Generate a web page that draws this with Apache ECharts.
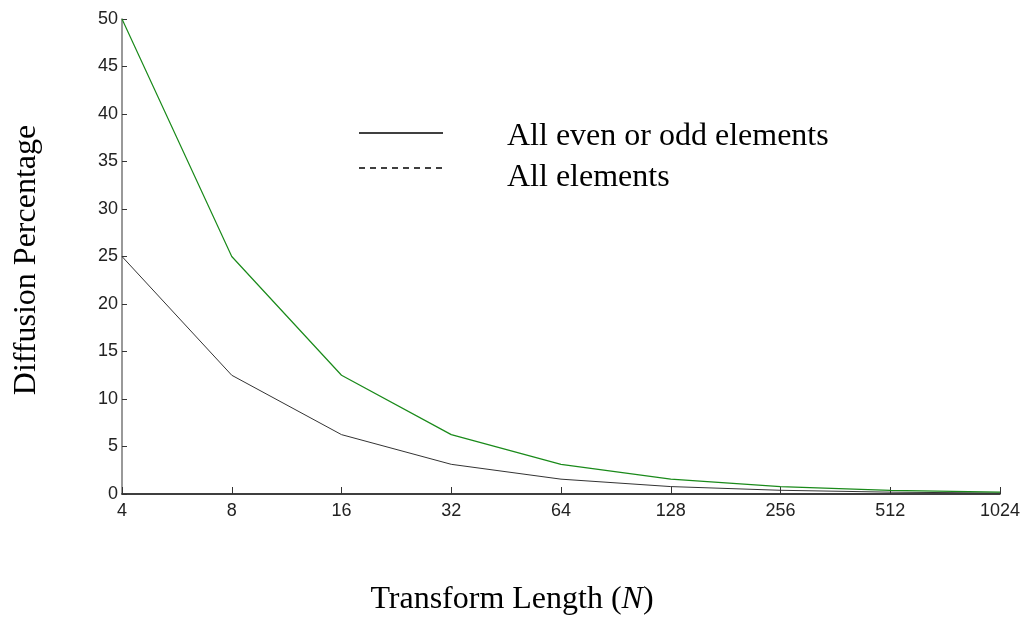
<!DOCTYPE html>
<html>
<head>
<meta charset="utf-8">
<script src="https://cdn.jsdelivr.net/npm/echarts@6/dist/echarts.min.js"></script>
<style>
  html, body { margin: 0; padding: 0; background: #fff; }
  #chart { width: 1030px; height: 617px; }
</style>
</head>
<body>
<div id="chart"></div>
<script>
// Transform lengths on the x axis
const lengths = ['4', '8', '16', '32', '64', '128', '256', '512', '1024'];
// Diffusion percentage when only even or only odd elements are changed
const evenOddDiffusion = [25, 12.5, 6.25, 3.125, 1.5625, 0.78, 0.39, 0.195, 0.098];
// Diffusion percentage when all elements are changed
const allDiffusion = [50, 25, 12.5, 6.25, 3.125, 1.5625, 0.78, 0.39, 0.195];
// Legend entries
const legendLabels = ['All even or odd elements', 'All elements'];

const chart = echarts.init(document.getElementById('chart'));
const serif = '"Liberation Serif", "Times New Roman", serif';
const sans = '"Liberation Sans", Arial, sans-serif';

chart.setOption({
  animation: false,
  backgroundColor: '#fff',
  grid: { left: 122, right: 30, top: 19, bottom: 123, containLabel: false },
  xAxis: {
    type: 'category',
    data: lengths,
    boundaryGap: false,
    axisLine: { lineStyle: { color: '#000', width: 1.5 } },
    axisTick: { inside: true, length: 7, alignWithLabel: true, lineStyle: { color: '#333' } },
    axisLabel: { color: '#222', fontFamily: sans, fontSize: 18, margin: 8 },
    splitLine: { show: false }
  },
  yAxis: {
    type: 'value',
    min: 0, max: 50, interval: 5,
    axisLine: { show: true, lineStyle: { color: '#777', width: 1.5 } },
    axisTick: { show: true, inside: true, length: 5, lineStyle: { color: '#333' } },
    axisLabel: { color: '#222', fontFamily: sans, fontSize: 18, margin: 4 },
    splitLine: { show: false }
  },
  series: [
    {
      name: legendLabels[0], type: 'line', data: evenOddDiffusion,
      symbol: 'none', lineStyle: { color: '#333', width: 1 }
    },
    {
      name: legendLabels[1], type: 'line', data: allDiffusion,
      symbol: 'none', lineStyle: { color: '#1a8a1a', width: 1.2 }
    }
  ],
  graphic: [
    // legend keys
    { type: 'line', shape: { x1: 359, y1: 133, x2: 443, y2: 133 }, style: { stroke: '#000', lineWidth: 1.3 } },
    { type: 'line', shape: { x1: 359, y1: 168, x2: 443, y2: 168 }, style: { stroke: '#000', lineWidth: 1.3, lineDash: [6, 5] } },
    { type: 'text', x: 507, y: 137, style: { text: legendLabels[0], font: '32px ' + serif, fill: '#000', verticalAlign: 'middle' } },
    { type: 'text', x: 507, y: 178, style: { text: legendLabels[1], font: '32px ' + serif, fill: '#000', verticalAlign: 'middle' } },
    // axis titles
    {
      type: 'text', x: 27, y: 260, rotation: Math.PI / 2,
      style: { text: 'Diffusion Percentage', font: '32px ' + serif, fill: '#000', align: 'center', verticalAlign: 'middle' }
    },
    {
      type: 'text', x: 512, y: 600,
      style: {
        text: '{n|Transform Length (}{i|N}{n|)}',
        align: 'center', verticalAlign: 'middle',
        rich: {
          n: { font: '32px ' + serif, fill: '#000' },
          i: { font: 'italic 32px ' + serif, fill: '#000' }
        }
      }
    }
  ]
});
</script>
</body>
</html>
